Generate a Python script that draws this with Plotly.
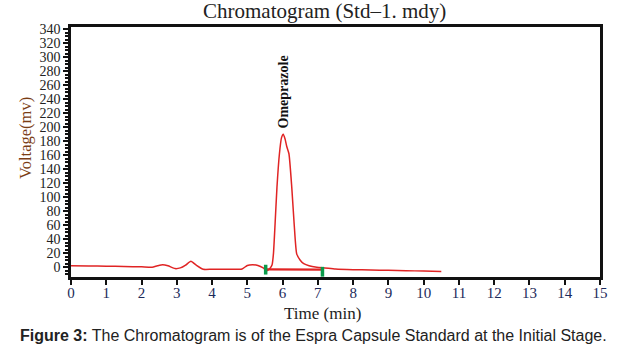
import plotly.graph_objects as go

# ---- data ----
time_min = [0, 0.5, 1, 1.5, 2, 2.3, 2.45, 2.6, 2.75, 2.95, 3.1, 3.25, 3.4, 3.55, 3.75,
            4, 4.5, 4.85, 5.0, 5.15, 5.3, 5.45, 5.55, 5.65, 5.70, 5.74, 5.79, 5.84,
            5.91, 5.97, 6.02, 6.07, 6.12, 6.18, 6.26, 6.33, 6.40, 6.5, 6.6, 6.75, 6.97,
            7.2, 7.5, 8, 8.5, 9, 9.5, 10, 10.5]
voltage_mv = [2, 1.8, 1.4, 1, 0.5, 0, 2, 3.5, 2, -2, -1, 3, 8.5, 3, -3,
              -3, -3, -2.5, 2.5, 3.5, 2.5, -1, -5, -1, 3, 19, 65, 114,
              162, 185, 190, 183, 172, 162, 114, 60, 19, 10, 5, 2, 0,
              -1, -2.5, -3.5, -4, -4.5, -5, -5.5, -6]

baseline_time = [5.55, 7.1]
baseline_mv = [-3, -3.5]
marker_time = [5.52, 7.13]
marker_mv = [-3.5, -6.5]

peak_name = "Omeprazole"
peak_time = 6.02
peak_label_mv = 195

x_ticks = list(range(0, 16))
y_ticks = list(range(0, 341, 20))

fig = go.Figure()
fig.add_trace(go.Scatter(x=time_min, y=voltage_mv, mode="lines",
                         line=dict(color="#e02424", width=1.5, shape="spline", smoothing=0.5),
                         hoverinfo="skip"))
fig.add_trace(go.Scatter(x=baseline_time, y=baseline_mv, mode="lines",
                         line=dict(color="#e02424", width=2.2), hoverinfo="skip"))
fig.add_trace(go.Scatter(x=marker_time, y=marker_mv, mode="markers",
                         marker=dict(symbol="line-ns", size=7,
                                     line=dict(color="#0a9a4a", width=3.5)),
                         hoverinfo="skip"))

fig.add_annotation(x=peak_time, y=peak_label_mv, text="<b>" + peak_name + "</b>", textangle=-90,
                   showarrow=False, yanchor="bottom", xanchor="center",
                   font=dict(family="Liberation Serif", size=14, color="#111"),
                   )
fig.add_annotation(x=0.480, y=1.0, xref="paper", yref="paper", yshift=2,
                   text="Chromatogram (Std–1. mdy)", showarrow=False,
                   yanchor="bottom", font=dict(family="Liberation Serif", size=21, color="#222"))
fig.add_annotation(x=-0.0756, y=0.556, xref="paper", yref="paper", textangle=-90, xshift=-6,
                   text="Voltage(mv)", showarrow=False, xanchor="center", yanchor="middle",
                   font=dict(family="Liberation Serif", size=16.5, color="#7a3d14"))
fig.add_annotation(x=0.476, y=0, xref="paper", yref="paper", yshift=-36,
                   text="Time (min)", showarrow=False, xanchor="center", yanchor="middle",
                   font=dict(family="Liberation Serif", size=17, color="#222"))
fig.add_annotation(x=0.4575, y=0, xref="paper", yref="paper", yshift=-58,
                   text="<b>Figure 3:</b> The Chromatogram is of the Espra Capsule Standard at the Initial Stage.",
                   showarrow=False, yanchor="middle",
                   font=dict(family="Liberation Sans", size=16, color="#222"))

fig.update_layout(
    width=617, height=354,
    margin=dict(l=71, r=17, t=27, b=77),
    paper_bgcolor="white", plot_bgcolor="white",
    showlegend=False,
    xaxis=dict(range=[0, 15], tickvals=x_ticks, ticks="outside", ticklen=5, tickwidth=1.5,
               tickcolor="#111", showline=True, linecolor="#111", linewidth=2.5, mirror=True,
               showgrid=False, zeroline=False, automargin=False, ticklabelstandoff=-5,
               tickfont=dict(family="Liberation Serif", size=15, color="#1c2a5a")),
    yaxis=dict(range=[-14, 343], tickvals=y_ticks, ticks="outside", ticklen=5, tickwidth=1.5,
               tickcolor="#111", showline=True, linecolor="#111", linewidth=2.5, mirror=True,
               showgrid=False, zeroline=False, automargin=False,
               minor=dict(dtick=5, tick0=0, ticks="outside", ticklen=3, tickcolor="#111", showgrid=False),
               tickfont=dict(family="Liberation Serif", size=14, color="#222")),
)

fig.write_html("out.html", config={"displayModeBar": False},
               post_script="document.body.style.margin='0';")
